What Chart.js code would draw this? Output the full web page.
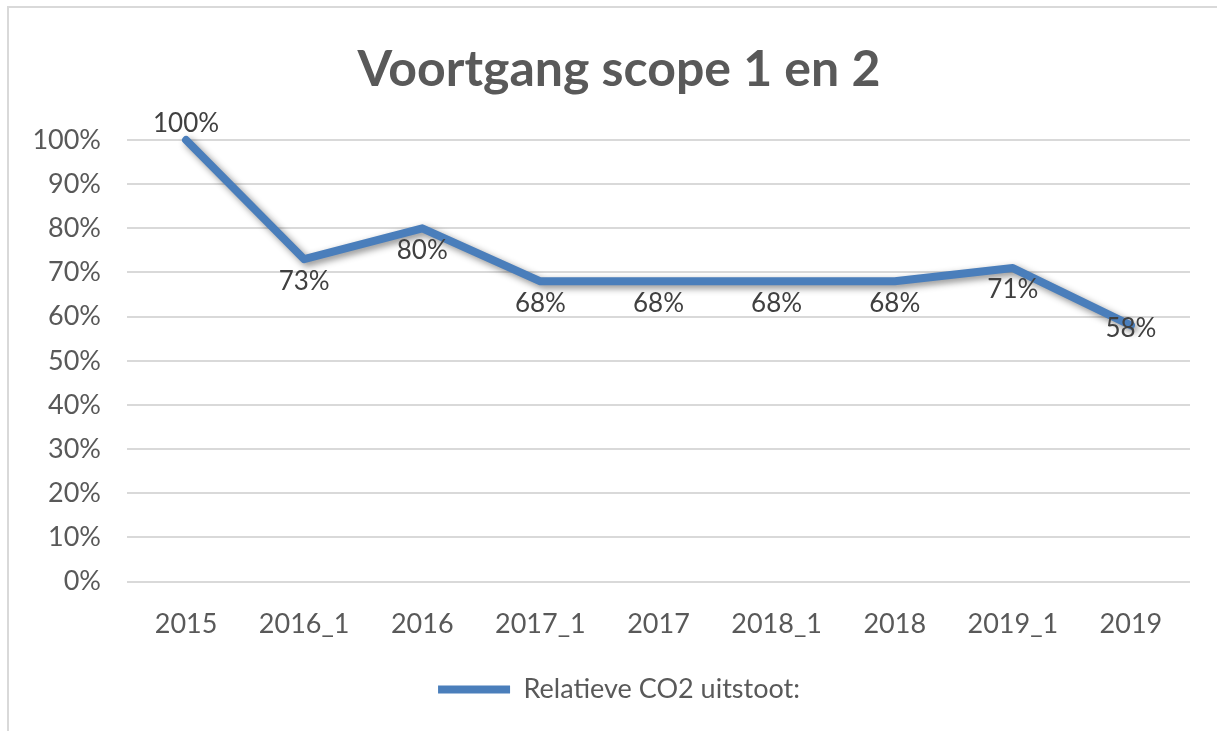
<!DOCTYPE html>
<html>
<head>
<meta charset="utf-8">
<script src="https://cdn.jsdelivr.net/npm/chart.js@4.4.1/dist/chart.umd.min.js"></script>
<style>
  html, body { margin: 0; padding: 0; background: #fff; }
  #wrap { position: absolute; left: 0; top: 0; width: 1217px; height: 731px; }
  #frame { position: absolute; left: 7px; top: 6px; width: 1230px; height: 740px;
           border-top: 2px solid #d9d9d9; border-left: 2px solid #d9d9d9; }
  canvas { position: absolute; left: 0; top: 0; }
</style>
</head>
<body>
<div id="wrap">
  <div id="frame"></div>
  <canvas id="c" width="1217" height="731"></canvas>
</div>
<script>
const categories = ['2015', '2016_1', '2016', '2017_1', '2017', '2018_1', '2018', '2019_1', '2019'];
const relativeCO2 = [100, 73, 80, 68, 68, 68, 68, 71, 58];
const yTicks = [0, 10, 20, 30, 40, 50, 60, 70, 80, 90, 100];
const seriesName = 'Relatieve CO2 uitstoot:';
const chartTitle = 'Voortgang scope 1 en 2';

const FONT = 'Lato, "Open Sans", sans-serif';
const LINE_COLOR = '#4a7ebb';

const shadowPlugin = {
  id: 'lineShadow',
  beforeDatasetDraw(chart) {
    const ctx = chart.ctx;
    ctx.save();
    ctx.shadowColor = 'rgba(0,0,0,0.45)';
    ctx.shadowBlur = 7;
    ctx.shadowOffsetX = 3;
    ctx.shadowOffsetY = 3;
  },
  afterDatasetDraw(chart) {
    chart.ctx.restore();
  }
};

// Shift title and legend boxes so they center on the frame rather than the canvas
const centerShiftPlugin = {
  id: 'centerShift',
  afterLayout(chart) {
    if (chart.titleBlock) chart.titleBlock.left += 48;
    if (chart.legend) chart.legend.left += 48;
  }
};

const labelPlugin = {
  id: 'valueLabels',
  afterDatasetsDraw(chart) {
    const ctx = chart.ctx;
    const meta = chart.getDatasetMeta(0);
    const data = chart.data.datasets[0].data;
    ctx.save();
    ctx.font = '26px ' + FONT;
    ctx.fillStyle = '#404040';
    ctx.textAlign = 'center';
    ctx.textBaseline = 'middle';
    const n = meta.data.length;
    meta.data.forEach((pt, i) => {
      let dy;
      if (i === 0) dy = -16;
      else if (i === n - 1) dy = 3;
      else dy = 22;
      ctx.fillText(data[i] + '%', pt.x, pt.y + dy);
    });
    ctx.restore();
  }
};

new Chart(document.getElementById('c'), {
  type: 'line',
  data: {
    labels: categories,
    datasets: [{
      label: seriesName,
      data: relativeCO2,
      borderColor: LINE_COLOR,
      backgroundColor: LINE_COLOR,
      borderWidth: 8,
      borderCapStyle: 'round',
      borderJoinStyle: 'round',
      pointRadius: 0,
      pointHoverRadius: 0,
      tension: 0,
      clip: false
    }]
  },
  options: {
    responsive: false,
    animation: false,
    events: [],
    layout: { padding: { left: 0, right: 27, top: 0, bottom: 18 } },
    plugins: {
      title: {
        display: true,
        text: chartTitle,
        color: '#595959',
        font: { family: FONT, size: 50, weight: 'bold' },
        padding: { top: 40, bottom: 40 }
      },
      legend: {
        display: true,
        position: 'bottom',
        labels: {
          color: '#595959',
          font: { family: FONT, size: 27 },
          usePointStyle: true,
          pointStyle: 'line',
          pointStyleWidth: 72,
          padding: 10
        }
      },
      tooltip: { enabled: false }
    },
    scales: {
      x: {
        offset: true,
        grid: { display: false, drawTicks: false },
        border: { display: false },
        ticks: {
          color: '#595959',
          font: { family: FONT, size: 27 },
          padding: 26,
          maxRotation: 0,
          autoSkip: false
        }
      },
      y: {
        min: 0,
        max: 100,
        afterFit(scale) { scale.width = 127; },
        afterBuildTicks(scale) { scale.ticks = yTicks.map(v => ({ value: v })); },
        grid: { color: '#d9d9d9', lineWidth: 2, drawTicks: false },
        border: { display: false },
        ticks: {
          color: '#595959',
          font: { family: FONT, size: 27 },
          padding: 26,
          callback: v => v + '%'
        }
      }
    }
  },
  plugins: [centerShiftPlugin, shadowPlugin, labelPlugin]
});
</script>
</body>
</html>
